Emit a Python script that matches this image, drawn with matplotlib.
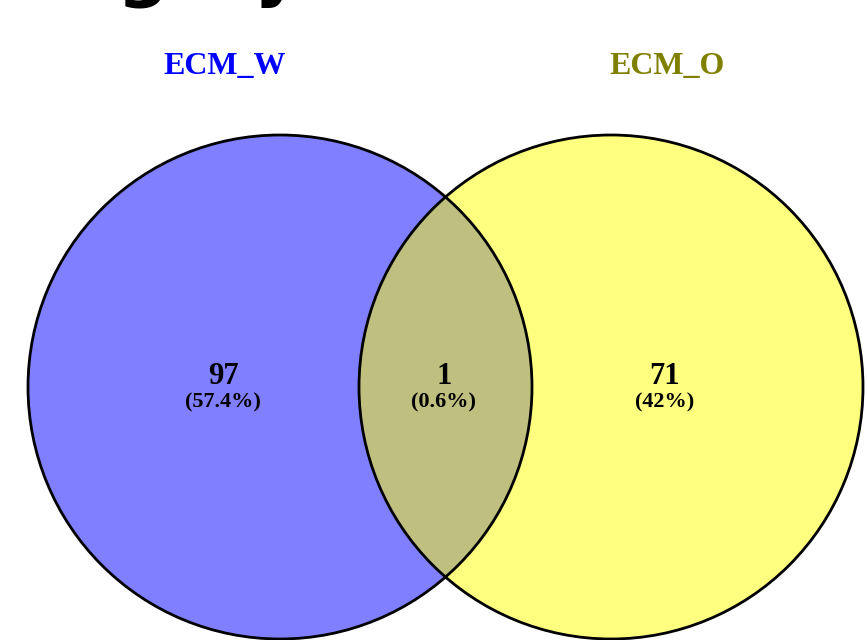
import matplotlib.pyplot as plt
from matplotlib.patches import Circle

# data
set_names = ["ECM_W", "ECM_O"]
set_colors = ["#0000FF", "#808000"]
fill_colors = ["blue", "yellow"]
region_counts = [97, 1, 71]
region_pcts = ["57.4%", "0.6%", "42%"]
title = "Category"

W, H = 867, 640
fig = plt.figure(figsize=(W / 100, H / 100), dpi=100)
ax = fig.add_axes([0, 0, 1, 1])
ax.set_xlim(0, W)
ax.set_ylim(H, 0)
ax.set_aspect("equal")
ax.axis("off")

centers = [(280, 387), (611, 387)]
radius = 252

for (cx, cy), col in zip(centers, fill_colors):
    ax.add_patch(Circle((cx, cy), radius, facecolor=col, alpha=0.5,
                        edgecolor="none", zorder=1))
for (cx, cy) in centers:
    ax.add_patch(Circle((cx, cy), radius, facecolor="none",
                        edgecolor="black", linewidth=2, zorder=2))

serif = ["Liberation Serif", "DejaVu Serif"]

label_x = [225, 667]
for x, name, col in zip(label_x, set_names, set_colors):
    ax.text(x, 66, name, ha="center", va="center", color=col,
            fontsize=23, fontweight="bold", family=serif)

region_x = [223, 444, 665]
for x, n, p in zip(region_x, region_counts, region_pcts):
    ax.text(x, 377, str(n), ha="center", va="center", fontsize=22,
            fontweight="bold", family=serif, zorder=3)
    ax.text(x, 402, "(" + p + ")", ha="center", va="center", fontsize=16,
            fontweight="bold", family=serif, zorder=3)

# title, mostly cropped off the top
ax.text(-68, -8, title, ha="left", va="baseline", fontsize=52,
        fontweight="bold", family=["DejaVu Sans"], clip_on=False)

fig.savefig("out.png", dpi=100)
